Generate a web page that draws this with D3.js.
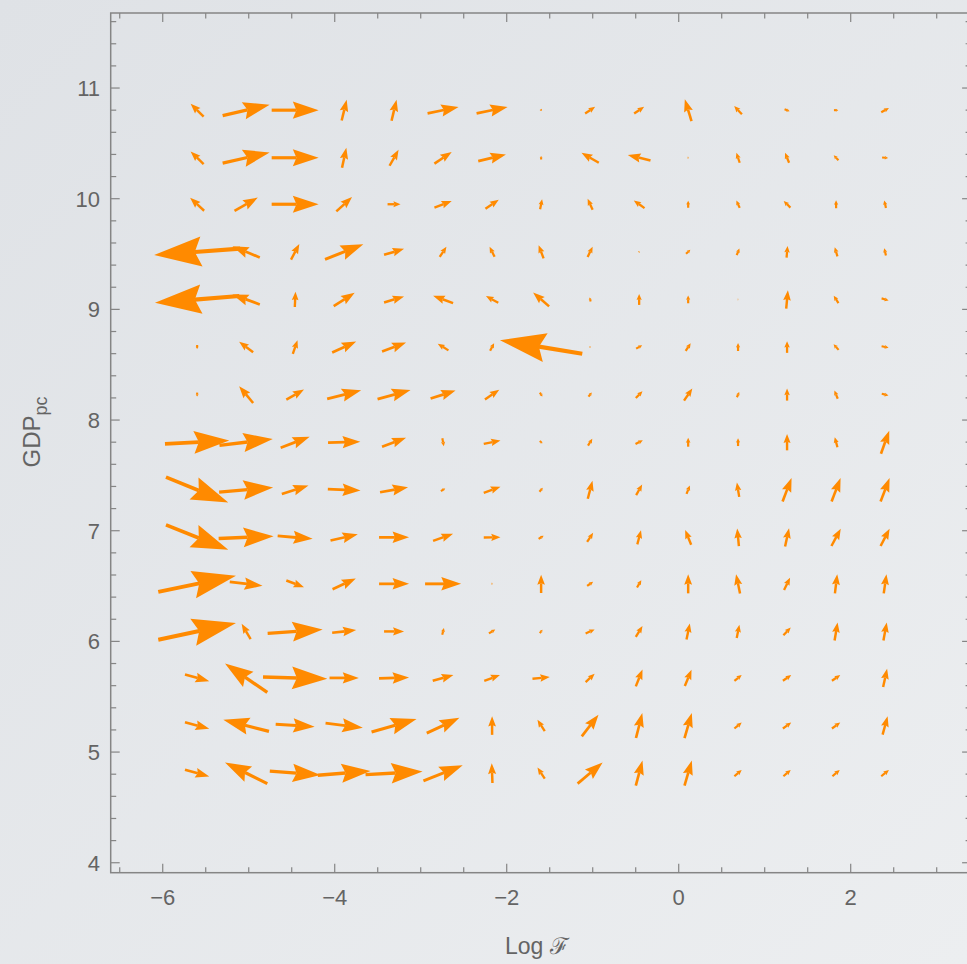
<!DOCTYPE html>
<html>
<head>
<meta charset="utf-8">
<script src="https://cdn.jsdelivr.net/npm/d3@7"></script>
<style>
html, body { margin:0; padding:0; background:#e8eaed; }
svg { display:block; }
</style>
</head>
<body>
<div id="canvas" class="canvas"></div>
<script>
// --- grid of the vector field
var xs = [-5.6, -5.03, -4.46, -3.89, -3.31, -2.74, -2.17, -1.6, -1.03, -0.46, 0.11, 0.69, 1.26, 1.83, 2.4];
var ys = [10.8, 10.37, 9.95, 9.52, 9.09, 8.66, 8.23, 7.8, 7.37, 6.94, 6.52, 6.09, 5.67, 5.24, 4.81];

// --- field components, one row per ys value (u: along Log F, v: along GDPpc)
var U = [
  [-13, 47, 47, 5, 5, 31, 31, 1, 10, 10, -6.7, -7.7, 5, 4.3, 7.7],
  [-13, 47, 47, 4.3, 9, 17.3, 27.7, 0, -17.3, -22.7, 1, -3.3, -4, -4.7, 6],
  [-14, 23.3, 47, 15.7, 13, 17.3, 13.3, 2, -5, -10.7, 0, -3.3, -6.7, 0, -1.7],
  [-86, -27.3, 8.3, 38.3, 20, 6.7, -5, -5, 5, 1, 4.3, 2.7, 1, -2.7, -1.7],
  [-84.3, -27.3, 0.7, 21, 20, -20, -12.3, -16, -1, 0, 0, 0.5, 1.7, -4.7, 7],
  [0, -14, 4.7, 24, 24, -10.7, 4, -82.3, 1, 6, 5, 0, 0, -5, 7],
  [0, -14, 17.7, 34, 33, 25, 14.3, 2.5, 3.3, 6.7, 8.3, 2.3, 0, -3.3, 6.7],
  [64.3, 53.3, 29, 32.3, 24, 1.5, 16.7, 2.7, 4.3, 7.3, 0, 0, 0, -2.7, 8.3],
  [62.3, 54, 26.7, 32.7, 28, 4.3, 16.7, 3.3, 4.7, 6, 3.3, -2.3, 9, 9, 9],
  [62.3, 55, 35, 27.3, 30, 20, 16.7, 5, 6, 3.7, -6, -1.7, 4, 9.3, 9],
  [77.7, 32.7, 17.7, 23.3, 30, 36, 1, 0, 6, 4.3, 0, -4, 6, 2.3, 2.7],
  [77.7, -9, 55, 24, 20, 1.7, 6.3, 2.7, 9, 6.7, 3.3, 2.7, 7.3, 3, 3.3],
  [24.3, -42.3, 64.3, 29.3, 30, 20.7, 15.7, 17.3, 9, 6.7, 6.7, 7.3, 8.3, 8.3, 4],
  [24.3, -45.7, 39, 37.3, 45, 32.7, 0, -7.3, 16.7, 6.3, 7.3, 7.3, 8.3, 8.3, 5],
  [24.3, -42.3, 50.7, 52.7, 57, 39.3, -0.7, -7.3, 25, 6.7, 7.3, 7.3, 7.3, 7.3, 7.7]
];
var V = [
  [13, 11, 0, 20.7, 21, 6.3, 6.3, -1.5, 6.7, 6.7, 21.7, 8.3, -2, 0, 4.3],
  [12.7, 10.7, 0, 20, 16, 11.7, 6.7, 3.5, 10, 5.3, 0, 10, 10, 5, -0.5],
  [13, 13.3, 0, 14.3, 0, 6.7, 9, 10, 11, 7.7, 7, 7.3, 6.7, 8, 7.7],
  [-6.3, 11.3, 15.7, 15, 6, 10, 10, 13, 10.3, 0.5, 4, 6.7, 11.7, 9, 7.3],
  [-6.7, 10, 15.3, 13.3, 6, 7.3, 6.7, 14, 4, 11, 7.7, 0, 18.3, 7.3, -2],
  [-4, 10.3, 13.7, 11, 9, 6.7, 7.7, 13.7, 0, 3.3, 7.7, 8, 11.7, 5.7, -1.5],
  [-4, 16.7, 10, 8.7, 9, 8, 9.7, -4, 4, 6.7, 12, 5.3, 12, 8.3, -1.7],
  [3.3, 6.3, 11, 1, 9, -8, 3.3, -2.3, 7, 3.7, 9, 7.7, 16.3, 10, 23],
  [-25.3, 4.7, 8.3, -1.3, 5, 2.7, 6, 4, 18, 10.7, 8.3, 14.3, 23.3, 23.3, 23.3],
  [-25, 2.3, -3, 6.3, 0, 7, 0.3, 3, 9, 14, 14.7, 17.7, 18.3, 17.3, 17.3],
  [16, -4, -6.7, 10.7, 0, 0, 0, 18.3, 4, 7.3, 19, 19.3, 12.3, 19, 19],
  [16.7, 15.3, 4, 2.7, 0, 6.7, 4, 3.3, 4, 10.7, 16, 13.3, 7.7, 18, 18],
  [-6.7, 29, -1.7, 0, 1, 5.7, 5.7, 1.7, 8.3, 17, 16.3, 5.7, 5.7, 5.7, 18.3],
  [-6.7, 11.7, -2.7, -4.7, 13, 15.3, 18.7, 11.3, 21.7, 25, 25, 6, 6, 6, 18.3],
  [-6.7, 21, -4, 4.3, 3, 15.7, 19.7, 11, 21, 25, 25, 6.3, 6.3, 6.3, 6.3]
];

var xTicks = [-6, -4, -2, 0, 2];
var yTicks = [4, 5, 6, 7, 8, 9, 10, 11];

// --- size
var W = 967, H = 964;
var x = d3.scaleLinear().domain([-6.605, 3.4]).range([110.7, 971.1]);
var y = d3.scaleLinear().domain([3.91, 11.678]).range([872.7, 13]);
var mag = d3.scaleLinear().domain([0, 1]).range([0, 1]); // field units -> px

var svg = d3.select('.canvas')
    .append('svg')
    .attr('width', W)
    .attr('height', H);

var defs = svg.append('defs');
var grad = defs.append('linearGradient').attr('id', 'bg')
    .attr('x1', '0%').attr('y1', '0%').attr('x2', '100%').attr('y2', '100%');
grad.append('stop').attr('offset', '0%').attr('stop-color', '#dfe2e6');
grad.append('stop').attr('offset', '100%').attr('stop-color', '#eceef0');

svg.append('rect').attr('width', W).attr('height', H).attr('fill', 'url(#bg)');

// --- arrows
var orange = '#ff8a00';
var field = svg.append('g');
var cells = [];
ys.forEach(function(yv, j) {
    xs.forEach(function(xv, i) {
        cells.push({x: xv, y: yv, u: U[j][i], v: V[j][i]});
    });
});

cells.forEach(function(d) {
    var cx = x(d.x), cy = y(d.y);
    var ux = mag(d.u), uy = -mag(d.v);
    var L = Math.sqrt(ux * ux + uy * uy);
    if (L < 0.5) { ux = 0.8; uy = 0; L = 0.8; }
    var ex = ux / L, ey = uy / L, px = -ey, py = ex;
    var tx = cx - ux / 2, ty = cy - uy / 2;
    var hx = cx + ux / 2, hy = cy + uy / 2;
    var hl = 0.55 * L, hw = 0.165 * L + 0.8;
    var bx = hx - ex * hl, by = hy - ey * hl;
    var nx = hx - ex * hl * 0.86, ny = hy - ey * hl * 0.86;
    var sw = 2 + 0.025 * L;

    field.append('line')
        .attr('x1', tx).attr('y1', ty)
        .attr('x2', nx).attr('y2', ny)
        .attr('stroke', orange)
        .attr('stroke-width', sw);

    var p = d3.path();
    p.moveTo(hx, hy);
    p.lineTo(bx + px * hw, by + py * hw);
    p.lineTo(nx, ny);
    p.lineTo(bx - px * hw, by - py * hw);
    p.closePath();
    field.append('path').attr('d', p.toString()).attr('fill', orange);
});

// --- frame and ticks
var frameCol = '#858585';
var x0 = x.range()[0], x1 = x.range()[1], y0 = y.range()[0], y1 = y.range()[1];
svg.append('rect')
    .attr('x', x0).attr('y', y1)
    .attr('width', x1 - x0).attr('height', y0 - y1)
    .attr('fill', 'none').attr('stroke', frameCol).attr('stroke-width', 1.5);

var axes = svg.append('g').attr('stroke', frameCol).attr('stroke-width', 1.2);
d3.range(-6.5, 3.41, 0.5).forEach(function(t) {
    var major = Math.abs(t % 2) < 1e-6;
    var len = major ? 9 : 5.5;
    axes.append('line').attr('x1', x(t)).attr('x2', x(t)).attr('y1', y0).attr('y2', y0 - len);
    axes.append('line').attr('x1', x(t)).attr('x2', x(t)).attr('y1', y1).attr('y2', y1 + len);
});
d3.range(4, 11.61, 0.2).forEach(function(t) {
    var major = Math.abs(t - Math.round(t)) < 1e-6;
    var len = major ? 9 : 5.5;
    axes.append('line').attr('y1', y(t)).attr('y2', y(t)).attr('x1', x0).attr('x2', x0 + len);
    axes.append('line').attr('y1', y(t)).attr('y2', y(t)).attr('x1', x1).attr('x2', x1 - len);
});

var labelCol = '#646464';
var font = '"Liberation Sans", Arial, sans-serif';

svg.append('g').selectAll('text')
    .data(xTicks).enter().append('text')
    .attr('x', function(d) { return x(d); })
    .attr('y', 905)
    .attr('text-anchor', 'middle')
    .style('font-family', font).style('font-size', '22px').style('fill', labelCol)
    .text(function(d) { return d < 0 ? '\u2212' + Math.abs(d) : d; });

svg.append('g').selectAll('text')
    .data(yTicks).enter().append('text')
    .attr('x', 100)
    .attr('y', function(d) { return y(d) + 8; })
    .attr('text-anchor', 'end')
    .style('font-family', font).style('font-size', '22px').style('fill', labelCol)
    .text(function(d) { return d; });

svg.append('text')
    .attr('x', (x0 + 967) / 2 - 2).attr('y', 954)
    .attr('text-anchor', 'middle')
    .style('font-family', font).style('font-size', '23px').style('fill', labelCol)
    .text('Log \u2131');

var yl = svg.append('text')
    .attr('transform', 'translate(40,' + 432 + ') rotate(-90)')
    .attr('text-anchor', 'middle')
    .style('font-family', font).style('font-size', '24px').style('fill', labelCol);
yl.append('tspan').text('GDP');
yl.append('tspan').attr('dy', 7).style('font-size', '18px').text('pc');
</script>
</body>
</html>
